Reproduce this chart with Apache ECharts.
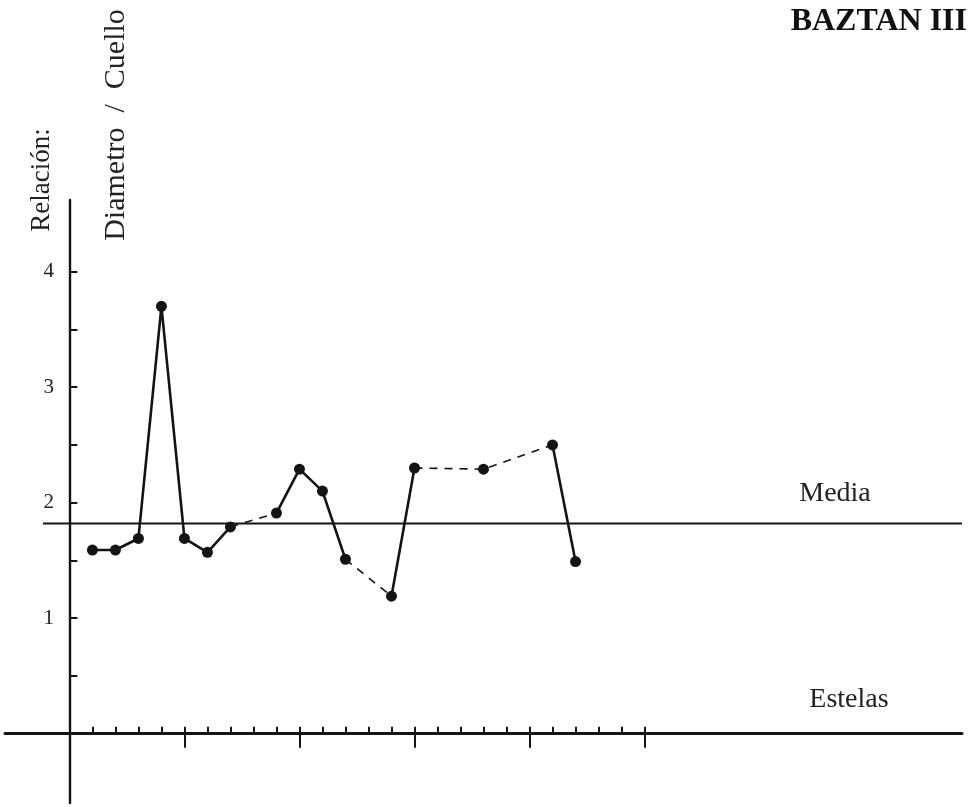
<!DOCTYPE html>
<html>
<head>
<meta charset="utf-8">
<script src="https://cdn.jsdelivr.net/npm/echarts@6/dist/echarts.min.js"></script>
<style>
html,body{margin:0;padding:0;background:#fff;}
#chart{width:977px;height:807px;}
</style>
</head>
<body>
<div id="chart"></div>
<script>
// ---- data ----
var stelaIndex = [1, 2, 3, 4, 5, 6, 7, 9, 10, 11, 12, 14, 15, 18, 21, 22];
var ratioValues = [1.59, 1.59, 1.69, 3.70, 1.69, 1.57, 1.79, 1.91, 2.29, 2.10, 1.51, 1.19, 2.30, 2.29, 2.50, 1.49];
var solidRuns = [[1, 2, 3, 4, 5, 6, 7], [9, 10, 11, 12], [14, 15], [21, 22]];
var dashedRuns = [[7, 9], [12, 14], [15, 18, 21]];
var mediaValue = 1.82;
var mediaSpan = [-1.15, 38.8];
var xMinorTicks = [1, 2, 3, 4, 5, 6, 7, 8, 9, 10, 11, 12, 13, 14, 15, 16, 17, 18, 19, 20, 21, 22, 23, 24, 25];
var xMajorTicks = [5, 10, 15, 20, 25];
var yTicks = [0.5, 1, 1.5, 2, 2.5, 3, 3.5, 4];
var yTickLabels = [1, 2, 3, 4];
var titleText = 'BAZTAN III';
var yTitle1 = 'Relación:';
var yTitle2 = 'Diametro  /  Cuello';
var mediaLabel = 'Media';
var xAxisLabel = 'Estelas';

// ---- build ----
function valueAt(ix) { return ratioValues[stelaIndex.indexOf(ix)]; }
function runData(run) { return run.map(function (ix) { return [ix, valueAt(ix)]; }); }

var INK = '#141414';
var SERIF = '"Liberation Serif", "DejaVu Serif", serif';

var series = [];
series.push({
  type: 'line', data: [[mediaSpan[0], mediaValue], [mediaSpan[1], mediaValue]],
  symbol: 'none', lineStyle: { color: INK, width: 2 }, silent: true, z: 2
});
dashedRuns.forEach(function (r) {
  series.push({
    type: 'line', data: runData(r), symbol: 'none',
    lineStyle: { color: INK, width: 1.6, type: [8, 7] }, z: 3
  });
});
solidRuns.forEach(function (r) {
  series.push({
    type: 'line', data: runData(r), symbol: 'none',
    lineStyle: { color: INK, width: 2.6 }, z: 4
  });
});
series.push({
  type: 'scatter', data: stelaIndex.map(function (ix, i) { return [ix, ratioValues[i]]; }),
  symbol: 'circle', symbolSize: 11, itemStyle: { color: INK, opacity: 1 }, z: 5
});

var chart = echarts.init(document.getElementById('chart'), null, { renderer: 'canvas' });
chart.setOption({
  backgroundColor: '#ffffff',
  animation: false,
  grid: { left: 5, right: 15, top: 200, bottom: 4, containLabel: false, outerBoundsMode: 'none' },
  xAxis: [{
    type: 'value', min: -2.8, max: 38.8,
    axisLine: { show: true, onZero: true, lineStyle: { color: INK, width: 3 } },
    axisTick: { show: true, inside: true, length: 7, customValues: xMinorTicks, lineStyle: { color: INK, width: 2 } },
    axisLabel: { show: false }, splitLine: { show: false }
  }, {
    type: 'value', min: -2.8, max: 38.8, position: 'bottom',
    axisLine: { show: true, onZero: true, onZeroAxisIndex: 1, lineStyle: { color: INK, width: 0, opacity: 0 } },
    axisTick: { show: true, inside: false, length: 14, customValues: xMajorTicks, lineStyle: { color: INK, width: 2 } },
    axisLabel: { show: false }, splitLine: { show: false }
  }],
  yAxis: [{
    type: 'value', min: -0.6, max: 4.62,
    axisLine: { show: true, onZero: true, lineStyle: { color: INK, width: 2.4 } },
    axisTick: { show: true, inside: true, length: 8, customValues: yTicks, lineStyle: { color: INK, width: 2 } },
    axisLabel: { show: false },
    splitLine: { show: false }
  }, {
    type: 'value', min: -0.6, max: 4.62, position: 'left', offset: -65,
    axisLine: { show: false, onZero: false },
    axisTick: { show: false },
    axisLabel: { show: true, customValues: yTickLabels, margin: 16, color: '#222', fontFamily: SERIF, fontSize: 21, hideOverlap: false },
    splitLine: { show: false }
  }],
  graphic: [
    { type: 'text', x: 967, y: 22, style: { text: titleText, font: 'bold 32px ' + SERIF, fill: '#111', textAlign: 'right', textVerticalAlign: 'middle' } },
    { type: 'text', x: 42, y: 180, rotation: Math.PI / 2, style: { text: yTitle1, font: '27px ' + SERIF, fill: '#222', textAlign: 'center', textVerticalAlign: 'middle' } },
    { type: 'text', x: 116, y: 125, rotation: Math.PI / 2, style: { text: yTitle2, font: '30px ' + SERIF, fill: '#222', textAlign: 'center', textVerticalAlign: 'middle' } },
    { type: 'text', x: 835, y: 494, style: { text: mediaLabel, font: '28px ' + SERIF, fill: '#222', textAlign: 'center', textVerticalAlign: 'middle' } },
    { type: 'text', x: 849, y: 700, style: { text: xAxisLabel, font: '28px ' + SERIF, fill: '#222', textAlign: 'center', textVerticalAlign: 'middle' } }
  ],
  series: series
});
</script>
</body>
</html>
